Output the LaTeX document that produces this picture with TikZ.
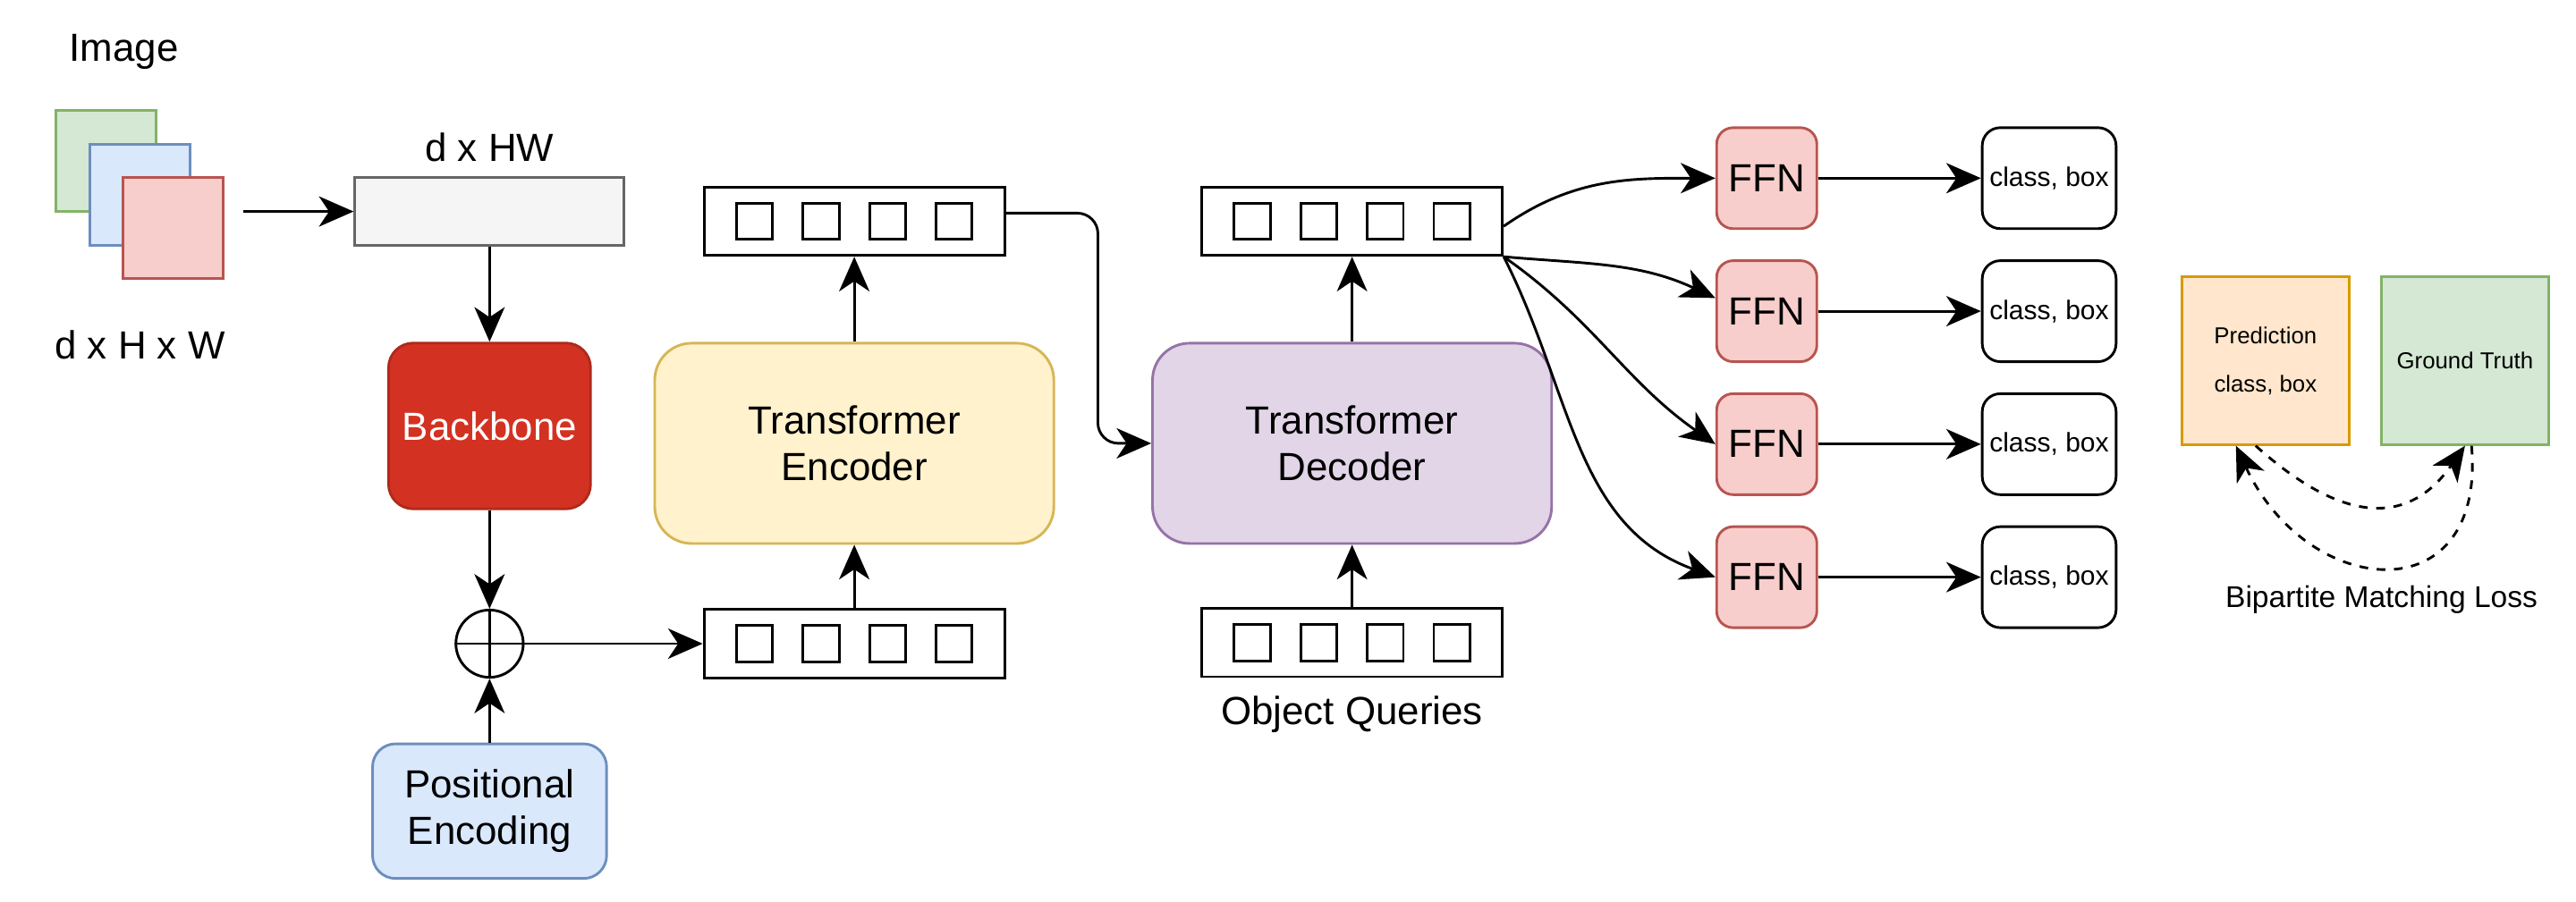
\documentclass[tikz,border=0pt]{standalone}
\usepackage{fontspec}
\setmainfont{Liberation Sans}
\usetikzlibrary{arrows.meta}

\definecolor{greenfill}{HTML}{D5E8D4}
\definecolor{greenline}{HTML}{82B366}
\definecolor{bluefill}{HTML}{DAE8FC}
\definecolor{blueline}{HTML}{6C8EBF}
\definecolor{redfill}{HTML}{F8CECC}
\definecolor{redline}{HTML}{B85450}
\definecolor{grayfill}{HTML}{F5F5F5}
\definecolor{grayline}{HTML}{666666}
\definecolor{bbfill}{HTML}{D33222}
\definecolor{bbline}{HTML}{AE2A1C}
\definecolor{encfill}{HTML}{FFF2CC}
\definecolor{encline}{HTML}{D6B656}
\definecolor{decfill}{HTML}{E1D5E7}
\definecolor{decline}{HTML}{9673A6}
\definecolor{predfill}{HTML}{FFE6CC}
\definecolor{predline}{HTML}{D79B00}

\tikzset{
  arr/.style={-{Stealth[length=12pt,width=10.5pt,inset=3.5pt]}, line width=0.9pt},
  big/.style={font=\fontsize{13.6}{16}\selectfont},
  lbl/.style={big, anchor=base, inner sep=0pt},
  block/.style={draw, line width=0.9pt, align=center, inner sep=0pt, big},
  imgsheet/.style={block, minimum width=1.22cm, minimum height=1.23cm},
  vec/.style={block, draw=black, fill=white, minimum width=3.66cm, minimum height=0.83cm},
  cell/.style={draw, line width=0.9pt, minimum size=0.44cm, inner sep=0pt},
  trans/.style={block, rounded corners=0.45cm, minimum width=4.86cm, minimum height=2.44cm},
  ffnbox/.style={block, draw=redline, fill=redfill, rounded corners=0.2cm,
    minimum width=1.22cm, minimum height=1.23cm},
  outbox/.style={block, draw=black, rounded corners=0.22cm, minimum width=1.63cm,
    minimum height=1.23cm, font=\fontsize{9.3}{11}\selectfont},
  lossbox/.style={block, minimum width=2.04cm, minimum height=2.04cm,
    font=\fontsize{8}{9.6}\selectfont}
}

\begin{document}
\begin{tikzpicture}[x=0.02cm, y=-0.02cm]

    \useasboundingbox (0,0) rectangle (1568,549);

    % input image and flattened features
    \node[lbl] (imglbl) at (75.4,37.2) {Image};
    \node[imgsheet, draw=greenline, fill=greenfill] (imgg) at (64.5,98.2) {};
    \node[imgsheet, draw=blueline, fill=bluefill] (imgb) at (85,118.5) {};
    \node[imgsheet, draw=redline, fill=redfill] (imgr) at (105.5,139) {};
    \node[lbl] (dimlbl) at (85.2,218.7) {d x H x W};

    \node[block, draw=grayline, fill=grayfill, minimum width=3.28cm, minimum height=0.82cm]
        (feat) at (298,128.8) {};
    \node[lbl] (featlbl) at (298,98) {d x HW};

    \node[block, draw=bbline, fill=bbfill, text=white, rounded corners=0.3cm,
        minimum width=2.46cm, minimum height=2.02cm] (backbone) at (298,259.4) {Backbone};

    \node[draw, circle, line width=0.9pt, minimum size=0.82cm, inner sep=0pt] (plus) at (298,392) {};
    \draw[line width=0.9pt] (plus.north) -- (plus.south) (plus.west) -- (plus.east);

    \node[block, draw=blueline, fill=bluefill, rounded corners=0.28cm,
        minimum width=2.85cm, minimum height=1.64cm] (pe) at (298,494) {Positional\\Encoding};

    % encoder / decoder
    \node[vec] (encin) at (520,392) {};
    \node[trans, draw=encline, fill=encfill] (enc) at (520,270) {Transformer\\Encoder};
    \node[vec] (encout) at (520,134.8) {};

    \node[trans, draw=decline, fill=decfill] (dec) at (823,270) {Transformer\\Decoder};
    \node[vec] (decout) at (823,134.8) {};
    \node[vec] (queries) at (823,391.4) {};
    \node[lbl] (querylbl) at (823,441) {Object Queries};

    \foreach \v in {encin,encout,decout,queries}
        \foreach \i in {1,...,4}
            \node[cell] (\v-c\i) at ([xshift={(\i-2.5)*0.81cm}]\v.center) {};

    \draw[arr, shorten <=0.23cm] (imgr.east |- feat.west) -- (feat.west);
    \draw[arr] (feat.south) -- (backbone.north);
    \draw[arr] (backbone.south) -- (plus.north);
    \draw[arr] (pe.north) -- (plus.south);
    \draw[arr] (plus.east) -- (encin.west);
    \draw[arr] (encin.north) -- (enc.south);
    \draw[arr] (enc.north) -- (encout.south);
    \draw[arr, rounded corners=0.25cm] ([yshift=0.1cm]encout.east) -- ++(56,0) |- (dec.west);
    \draw[arr] (queries.north) -- (dec.south);
    \draw[arr] (dec.north) -- (decout.south);

    % prediction heads
    \foreach \i/\y in {1/108.5,2/189.5,3/270.5,4/351.5} {
        \node[ffnbox] (ffn\i) at (1075.4,\y) {FFN};
        \node[outbox] (cls\i) at (1247.3,\y) {class, box};
        \draw[arr] (ffn\i.east) -- (cls\i.west);
    }

    \draw[arr] ([yshift=-0.06cm]decout.east) to[out=35, in=180] (ffn1.west);
    \draw[arr] (decout.south east) to[out=-5, in=155] ([yshift=0.16cm]ffn2.west);
    \draw[arr] (decout.south east) to[out=-35, in=145] (ffn3.west);
    \draw[arr] (decout.south east) to[out=-63, in=160] (ffn4.west);

    % matching loss
    \node[lossbox, draw=predline, fill=predfill] (pred) at (1379,219.7) {Prediction\\[7pt]class, box};
    \node[lossbox, draw=greenline, fill=greenfill] (gt) at (1500.4,219.7) {Ground Truth};

    \draw[arr, dashed, dash pattern=on 3pt off 3pt] ([xshift=-0.12cm]pred.south)
        to[out=-42, in=-125, looseness=1.3] (gt.south);
    \draw[arr, dashed, dash pattern=on 3pt off 3pt] ([xshift=0.08cm]gt.south)
        to[out=-85, in=-65, looseness=1.85] ([xshift=-0.36cm]pred.south);

    \node[lbl, font=\fontsize{10.4}{12.5}\selectfont] (losslbl) at (1449.6,370.2) {Bipartite Matching Loss};

\end{tikzpicture}
\end{document}
